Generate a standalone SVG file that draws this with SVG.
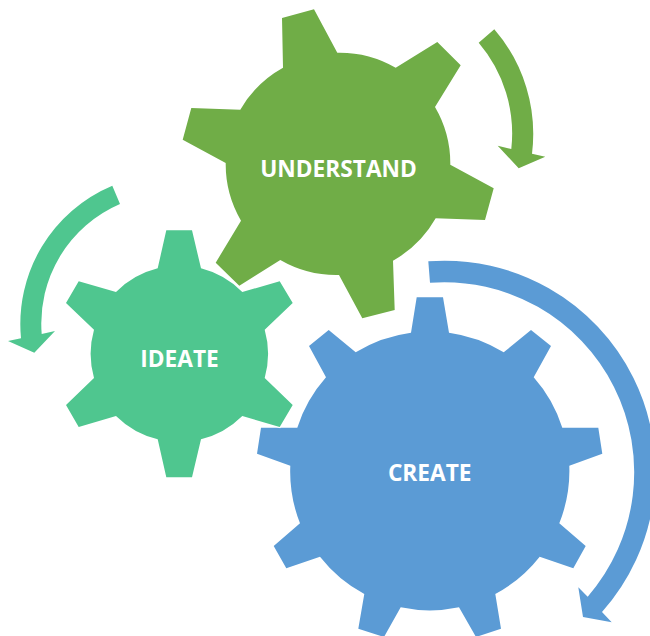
<svg xmlns="http://www.w3.org/2000/svg" width="650" height="636" viewBox="0 0 650 636">
<style>
.lbl{font-family:"Open Sans","Noto Sans","Liberation Sans",sans-serif;font-weight:700;font-size:22.7px;fill:#fff;text-anchor:middle}
.u{fill:#70AD47}.i{fill:#4FC68F}.c{fill:#5B9BD5}
.halo{stroke:#fff;stroke-width:2;paint-order:stroke}
</style>
<rect width="650" height="636" fill="#fff"/>
<g id="create">
<path class="c" d="M416.7 297.3H443L449 332.7A141 141 0 0 1 503.7 352.3L531 330L551 346L533.7 377.3A141 141 0 0 1 562.3 427.7H598.3L602.3 453.7L569.3 465.7A141 141 0 0 1 559.3 523.3L585.7 546L573.3 568.3L539.7 556.7A141 141 0 0 1 495.3 594L501 628.7L476 637L459 607.3A141 141 0 0 1 400.7 607.3L384 637L358.3 628.7L364.3 594A141 141 0 0 1 320 556.7L286.3 568.3L273.7 546L300 523.3A141 141 0 0 1 290.3 465.7L257 453.7L261 427.7H297.3A141 141 0 0 1 326 377.3L309 346L328.7 330L355.7 352.3A141 141 0 0 1 411 332.7Z"/>
<text class="lbl" x="429.7" y="481">CREATE</text>
</g>
<g id="understand">
<path class="u" d="M282 18L314 9.3L337.3 52.7A112 112 0 0 1 395.7 67.7L437.3 42L460.7 65.3L435 107A112 112 0 0 1 450.3 164.7L493.7 188.3L485 220L435.7 218.3A112 112 0 0 1 393 260.7L394.7 310L362.3 318.3L339 275A112 112 0 0 1 280.3 260L239.3 285.7L215.7 262.7L241 220.7A112 112 0 0 1 225.7 163L182.7 139.7L191.3 108L240.3 109.7A112 112 0 0 1 283 67.7Z"/>
<text class="lbl" x="338.5" y="176.5">UNDERSTAND</text>
</g>
<g id="ideate">
<path class="i halo" d="M166.3 230.3H192L201 268.3A89 89 0 0 1 242.3 292L279.7 281.3L292.7 303L264.7 329.7A89 89 0 0 1 264.7 378L292.7 405L279.7 427L242.3 416A89 89 0 0 1 201 439.3L192 477.3H166.3L157.7 439.3A89 89 0 0 1 116 416L78.7 427L66 405L94 378A89 89 0 0 1 94 329.7L66 303L78.7 281.3L116 292A89 89 0 0 1 157.7 268.3Z"/>
<text class="lbl" x="179.5" y="366.8">IDEATE</text>
</g>
<g id="connectors">
<path class="u" d="M494.3 29.3A160 160 0 0 1 532 153.7L545.3 156.7L518.7 168.3L497.7 145.7L511.3 149A140 140 0 0 0 478.7 42.7Z"/>
<path class="i" d="M112.3 185.7A150 150 0 0 0 21 338.3L8 341L34.3 352.7L55 331L41.7 334A130 130 0 0 1 120 204Z"/>
<path class="c" d="M428.3 261.3A211 211 0 0 1 602 612L611.7 622.3L583 617L578.3 587.3L587.7 596.7A190 190 0 0 0 430 282.7Z"/>
</g>
</svg>
